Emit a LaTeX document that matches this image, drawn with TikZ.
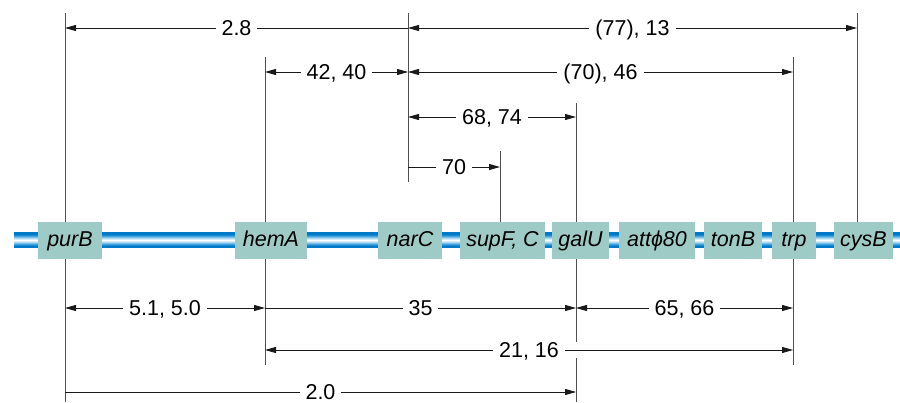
\documentclass[tikz,border=0pt]{standalone}
\usepackage{fontspec}
\setmainfont{Liberation Sans}
\usetikzlibrary{arrows.meta}
\definecolor{geneFill}{RGB}{159,203,199}
\definecolor{cD}{RGB}{0,122,200}
\definecolor{cM}{RGB}{70,165,225}
\definecolor{cL}{RGB}{170,215,242}
\definecolor{lineC}{RGB}{25,25,25}
\definecolor{vC}{RGB}{80,80,80}
\pgfdeclareverticalshading{chrom}{100bp}{color(0bp)=(cD); color(25bp)=(cD); color(31bp)=(cD); color(37bp)=(cM); color(43bp)=(cL); color(50bp)=(white); color(57bp)=(cL); color(63bp)=(cM); color(69bp)=(cD); color(75bp)=(cD); color(100bp)=(cD)}
\begin{document}
\begin{tikzpicture}[x=1pt,y=-1pt,
  tip/.tip={Triangle[length=11pt,width=6pt]},
  dim/.style={draw=lineC, line width=0.8pt},
  both/.style={dim,tip-tip},
  lefttip/.style={dim,tip-},
  righttip/.style={dim,-tip},
  vline/.style={draw=vC, line width=0.9pt},
  lab/.style={fill=white, inner xsep=6pt, inner ysep=0pt, text height=15.5pt, text depth=0pt,
              font=\fontsize{21.5}{23}\selectfont},
  gene/.style={fill=geneFill, minimum height=37pt, inner sep=0pt, text height=15.4pt, text depth=3pt,
               font=\fontsize{21.5}{23}\selectfont\itshape}]
\useasboundingbox (0,0) rectangle (900,402);

% vertical reference lines
\coordinate (vPurT) at (65,13);   \coordinate (vPurB) at (65,402);
\coordinate (vHemT) at (265,57);  \coordinate (vHemB) at (265,365);
\coordinate (vNarT) at (408,13);  \coordinate (vNarB) at (408,182);
\coordinate (vSupT) at (500,151); \coordinate (vSupB) at (500,230);
\coordinate (vGalT) at (576,103); \coordinate (vGalM1) at (576,342);
\coordinate (vGalM2) at (576,358); \coordinate (vGalB) at (576,402);
\coordinate (vTrpT) at (793,57);  \coordinate (vTrpB) at (793,365);
\coordinate (vCysT) at (857,13);  \coordinate (vCysB) at (857,230);

\draw[vline] (vPurT) -- (vPurB);
\draw[vline] (vHemT) -- (vHemB);
\draw[vline] (vNarT) -- (vNarB);
\draw[vline] (vSupT) -- (vSupB);
\draw[vline] (vGalT) -- (vGalM1);
\draw[vline] (vGalM2) -- (vGalB);
\draw[vline] (vTrpT) -- (vTrpB);
\draw[vline] (vCysT) -- (vCysB);

% chromosome bar
\shade[shading=chrom] (14,232.5) rectangle (900,247.5);

% gene boxes
\node[gene, minimum width=64pt] (purB) at (70,240.5) {purB};
\node[gene, minimum width=72pt] (hemA) at (271,240.5) {hemA};
\node[gene, minimum width=64pt] (narC) at (410,240.5) {narC};
\node[gene, minimum width=85pt] (supF) at (502.5,240.5) {supF, C};
\node[gene, minimum width=57pt] (galU) at (580.5,240.5) {galU};
\node[gene, minimum width=76pt] (att) at (657,240.5) {att\symbol{"03D5}80};
\node[gene, minimum width=58pt] (tonB) at (733,240.5) {tonB};
\node[gene, minimum width=44pt] (trp) at (794,240.5) {trp};
\node[gene, minimum width=59pt] (cysB) at (863.5,240.5) {cysB};

% dimension end points
\coordinate (a1) at (65,28);  \coordinate (a2) at (408,28);  \coordinate (a3) at (857,28);
\coordinate (b1) at (265,72); \coordinate (b2) at (408,72);  \coordinate (b3) at (793,72);
\coordinate (c1) at (408,117); \coordinate (c2) at (576,117);
\coordinate (e1) at (408,167); \coordinate (e2) at (500,167);
\coordinate (f1) at (65,308); \coordinate (f2) at (265,308); \coordinate (f3) at (576,308); \coordinate (f4) at (793,308);
\coordinate (g1) at (265,350); \coordinate (g2) at (793,350);
\coordinate (h1) at (65,392); \coordinate (h2) at (576,392);

% dimension lines
\draw[lefttip] (a1) -- node[lab] (l28) {2.8} (a2);
\draw[both] (a2) -- node[lab] (l77) {(77), 13} (a3);
\draw[both] (b1) -- node[lab] (l42) {42, 40} (b2);
\draw[both] (b2) -- node[lab] (l70a) {(70), 46} (b3);
\draw[both] (c1) -- node[lab] (l68) {68, 74} (c2);
\draw[righttip] (e1) -- node[lab] (l70) {70} (e2);
\draw[both] (f1) -- node[lab] (l51) {5.1, 5.0} (f2);
\draw[righttip] (f2) -- node[lab] (l35) {35} (f3);
\draw[both] (f3) -- node[lab] (l65) {65, 66} (f4);
\draw[both] (g1) -- node[lab] (l21) {21, 16} (g2);
\draw[righttip] (h1) -- node[lab] (l20) {2.0} (h2);
\end{tikzpicture}
\end{document}
